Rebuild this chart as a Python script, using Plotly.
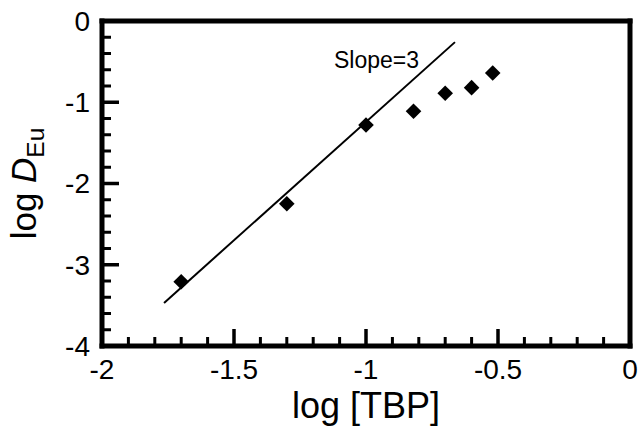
import plotly.graph_objects as go

# data
log_tbp = [-1.70, -1.30, -1.00, -0.82, -0.70, -0.60, -0.52]
log_deu = [-3.21, -2.25, -1.28, -1.11, -0.89, -0.82, -0.64]
fit_x = [-1.765, -0.663]
fit_y = [-3.47, -0.26]
x_ticks = [-2, -1.5, -1, -0.5, 0]
x_ticklabels = ["-2", "-1.5", "-1", "-0.5", "0"]
x_minor = [-1.9, -1.8, -1.7, -1.6, -1.4, -1.3, -1.2, -1.1,
           -0.9, -0.8, -0.7, -0.6, -0.4, -0.3, -0.2, -0.1]
y_ticks = [-4, -3, -2, -1, 0]
y_ticklabels = ["-4", "-3", "-2", "-1", "0"]
y_minor = [-3.8, -3.6, -3.4, -3.2, -2.8, -2.6, -2.4, -2.2,
           -1.8, -1.6, -1.4, -1.2, -0.8, -0.6, -0.4, -0.2]
x_range = [-2, 0]
y_range = [-4, 0]

FONT = "Arial, Liberation Sans, sans-serif"
W, H = 642, 427
ML, MR, MT, MB = 102, 12, 21, 81
PW, PH = W - ML - MR, H - MT - MB          # plot area in px
XU = PW / (x_range[1] - x_range[0])          # px per x unit
YU = PH / (y_range[1] - y_range[0])          # px per y unit

fig = go.Figure()
fig.add_trace(go.Scatter(x=fit_x, y=fit_y, mode="lines",
                         line=dict(color="black", width=2), showlegend=False))
fig.add_trace(go.Scatter(x=log_tbp, y=log_deu, mode="markers",
                         marker=dict(symbol="diamond", size=12, color="black"),
                         showlegend=False))
fig.add_annotation(x=-0.96, y=-0.48, text="Slope=3", showarrow=False,
                   font=dict(family=FONT, size=23, color="black"))

def box(**kw):
    fig.add_shape(type="rect", fillcolor="black", line=dict(width=0), layer="above", **kw)

# frame (filled bars, 5 px thick, centred on the plot edges)
fw = 5
fx, fy = fw / 2 / PW, fw / 2 / PH
box(xref="paper", yref="paper", x0=-fx, x1=fx, y0=-fy, y1=1 + fy)
box(xref="paper", yref="paper", x0=1 - fx, x1=1 + fx, y0=-fy, y1=1 + fy)
box(xref="paper", yref="paper", x0=-fx, x1=1 + fx, y0=-fy, y1=fy)
box(xref="paper", yref="paper", x0=-fx, x1=1 + fx, y0=1 - fy, y1=1 + fy)

# inside ticks, bottom and left axes only
for vals, ln, tw in ((x_ticks, 17, 3.5), (x_minor, 9, 3)):
    for t in vals:
        box(xref="x", yref="paper", x0=t - tw / 2 / XU, x1=t + tw / 2 / XU, y0=0, y1=ln / PH)
for vals, ln, tw in ((y_ticks, 17, 3.5), (y_minor, 9, 3)):
    for t in vals:
        box(xref="paper", yref="y", x0=0, x1=ln / PW, y0=t - tw / 2 / YU, y1=t + tw / 2 / YU)

axis_common = dict(showline=False, automargin=False, ticks="",
                   showgrid=False, zeroline=False,
                   tickfont=dict(family=FONT, size=28, color="black"))

fig.update_xaxes(range=x_range, tickvals=x_ticks, ticktext=x_ticklabels,
                 title=dict(text="log [TBP]", font=dict(family=FONT, size=36, color="black"), standoff=0),
                 ticklabelstandoff=4,
                 **axis_common)
fig.update_yaxes(range=y_range, tickvals=y_ticks, ticktext=y_ticklabels,
                 title=dict(text="log <i>D</i><sub>Eu</sub>", font=dict(family=FONT, size=35, color="black"), standoff=17),
                 ticklabelstandoff=11,
                 **axis_common)

fig.update_layout(width=W, height=H, margin=dict(l=ML, r=MR, t=MT, b=MB),
                  plot_bgcolor="white", paper_bgcolor="white")

fig.write_html("out.html")
